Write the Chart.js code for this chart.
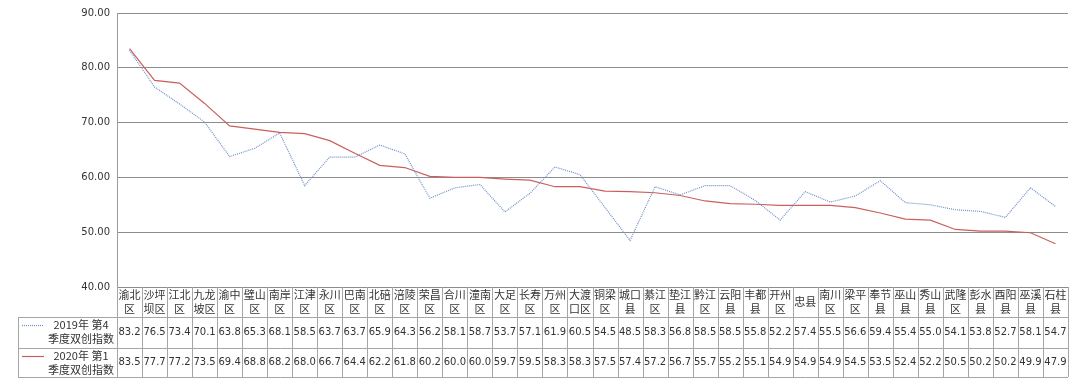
<!DOCTYPE html>
<html>
<head>
<meta charset="utf-8">
<script src="https://cdn.jsdelivr.net/npm/chart.js@4"></script>
<style>
  html, body { margin: 0; padding: 0; background: #fff; }
  #wrap { width: 1080px; height: 391px; position: relative; }
</style>
</head>
<body>
<div id="wrap"><canvas id="line-chart" width="1080" height="391"></canvas></div>
<script>
var categories = [
  ["渝北", "区"], ["沙坪", "坝区"], ["江北", "区"], ["九龙", "坡区"], ["渝中", "区"],
  ["璧山", "区"], ["南岸", "区"], ["江津", "区"], ["永川", "区"], ["巴南", "区"],
  ["北碚", "区"], ["涪陵", "区"], ["荣昌", "区"], ["合川", "区"], ["潼南", "区"],
  ["大足", "区"], ["长寿", "区"], ["万州", "区"], ["大渡", "口区"], ["铜梁", "区"],
  ["城口", "县"], ["綦江", "区"], ["垫江", "县"], ["黔江", "区"], ["云阳", "县"],
  ["丰都", "县"], ["开州", "区"], ["忠县"], ["南川", "区"], ["梁平", "区"],
  ["奉节", "县"], ["巫山", "县"], ["秀山", "县"], ["武隆", "区"], ["彭水", "县"],
  ["酉阳", "县"], ["巫溪", "县"], ["石柱", "县"]
];
var q4_2019 = [83.2, 76.5, 73.4, 70.1, 63.8, 65.3, 68.1, 58.5, 63.7, 63.7,
  65.9, 64.3, 56.2, 58.1, 58.7, 53.7, 57.1, 61.9, 60.5, 54.5,
  48.5, 58.3, 56.8, 58.5, 58.5, 55.8, 52.2, 57.4, 55.5, 56.6,
  59.4, 55.4, 55.0, 54.1, 53.8, 52.7, 58.1, 54.7];
var q1_2020 = [83.5, 77.7, 77.2, 73.5, 69.4, 68.8, 68.2, 68.0, 66.7, 64.4,
  62.2, 61.8, 60.2, 60.0, 60.0, 59.7, 59.5, 58.3, 58.3, 57.5,
  57.4, 57.2, 56.7, 55.7, 55.2, 55.1, 54.9, 54.9, 54.9, 54.5,
  53.5, 52.4, 52.2, 50.5, 50.2, 50.2, 49.9, 47.9];
var seriesNames = [["2019年 第4", "季度双创指数"], ["2020年 第1", "季度双创指数"]];
var yTicks = [40, 50, 60, 70, 80, 90];

var numFont = '10px "DejaVu Sans", sans-serif';
var cjkFont = '11px "Noto Sans CJK SC", sans-serif';

// 아래쪽 데이터 표
var tablePlugin = {
  id: 'dataTable',
  afterDraw: function (chart) {
    var ctx = chart.ctx;
    var x = chart.scales.x;
    var area = chart.chartArea;
    var n = categories.length;
    var colW = (area.right - area.left) / n;
    var top = area.bottom;
    var rowH = [30, 31, 29];
    var r1 = top + rowH[0], r2 = r1 + rowH[1], r3 = r2 + rowH[2];
    var tableLeft = 18;

    ctx.save();
    ctx.strokeStyle = '#a6a6a6';
    ctx.lineWidth = 1;
    ctx.beginPath();
    // 가로선
    [r1, r2, r3].forEach(function (y) {
      ctx.moveTo(tableLeft, Math.round(y) + 0.5);
      ctx.lineTo(area.right, Math.round(y) + 0.5);
    });
    // 세로선
    for (var i = 0; i <= n; i++) {
      var bx = Math.round(area.left + i * colW) + 0.5;
      ctx.moveTo(bx, top);
      ctx.lineTo(bx, r3);
    }
    ctx.moveTo(tableLeft + 0.5, r1);
    ctx.lineTo(tableLeft + 0.5, r3);
    ctx.stroke();

    ctx.fillStyle = '#333';
    ctx.textAlign = 'center';
    ctx.textBaseline = 'middle';
    for (var j = 0; j < n; j++) {
      var cx = x.getPixelForValue(j);
      ctx.font = cjkFont;
      var lines = categories[j];
      if (lines.length === 1) {
        ctx.fillText(lines[0], cx, top + rowH[0] / 2);
      } else {
        ctx.fillText(lines[0], cx, top + 8);
        ctx.fillText(lines[1], cx, top + 22);
      }
      ctx.font = numFont;
      ctx.fillText(q4_2019[j].toFixed(1), cx, r1 + rowH[1] / 2);
      ctx.fillText(q1_2020[j].toFixed(1), cx, r2 + rowH[2] / 2);
    }

    // 범례
    var legendX = 81;
    [r1, r2].forEach(function (rowTop, k) {
      var ds = chart.data.datasets[k];
      ctx.save();
      ctx.strokeStyle = ds.borderColor;
      ctx.lineWidth = ds.borderWidth;
      ctx.setLineDash(ds.borderDash || []);
      ctx.beginPath();
      ctx.moveTo(22, rowTop + 8.5);
      ctx.lineTo(44, rowTop + 8.5);
      ctx.stroke();
      ctx.restore();
      ctx.font = '11px "Noto Sans CJK SC", sans-serif';
      ctx.fillStyle = '#333';
      ctx.fillText(seriesNames[k][0], legendX, rowTop + 8);
      ctx.fillText(seriesNames[k][1], legendX, rowTop + 22);
    });
    ctx.restore();
  }
};

var ctx = document.getElementById('line-chart').getContext('2d');
var myChart = new Chart(ctx, {
  type: 'line',
  data: {
    labels: categories,
    datasets: [{
      label: seriesNames[0].join(''),
      data: q4_2019,
      borderColor: '#6f8fc8',
      borderWidth: 1.2,
      borderDash: [1, 1],
      pointRadius: 0,
      tension: 0,
      fill: false
    }, {
      label: seriesNames[1].join(''),
      data: q1_2020,
      borderColor: '#c9605d',
      borderWidth: 1.2,
      pointRadius: 0,
      tension: 0,
      fill: false
    }]
  },
  options: {
    responsive: false,
    animation: false,
    layout: { padding: { left: 0, right: 12, top: 12, bottom: 104 } },
    plugins: {
      legend: { display: false },
      tooltip: { enabled: false }
    },
    scales: {
      x: {
        offset: true,
        ticks: { display: false },
        grid: { display: false, drawTicks: false },
        border: { display: true, color: '#8c8c8c' },
        afterFit: function (scale) { scale.height = 0; }
      },
      y: {
        min: yTicks[0],
        max: yTicks[yTicks.length - 1],
        afterBuildTicks: function (scale) {
          scale.ticks = yTicks.map(function (v) { return { value: v }; });
        },
        afterFit: function (scale) { scale.width = 117; },
        ticks: {
          padding: 7,
          color: '#333',
          font: { family: 'DejaVu Sans', size: 10 },
          callback: function (v) { return Number(v).toFixed(2); }
        },
        grid: { color: '#8c8c8c', drawTicks: false },
        border: { display: true, color: '#9a9a9a' }
      }
    }
  },
  plugins: [tablePlugin]
});
</script>
</body>
</html>
